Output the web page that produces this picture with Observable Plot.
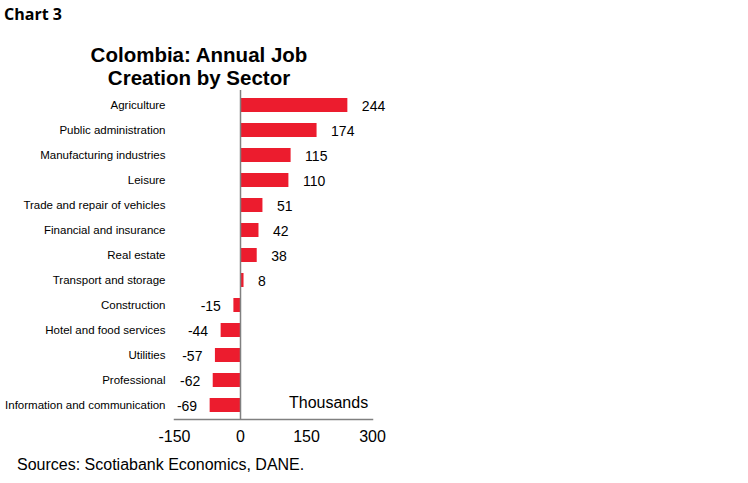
<!DOCTYPE html>
<html>
<head>
<meta charset="utf-8">
<script src="https://cdn.jsdelivr.net/npm/d3@7"></script>
<script src="https://cdn.jsdelivr.net/npm/@observablehq/plot@0.6"></script>
<style>
  html, body { margin: 0; padding: 0; background: #fff; }
  #wrap { position: relative; width: 748px; height: 483px; overflow: hidden; font-family: "Liberation Sans", Arial, sans-serif; color: #000; }
  #wrap svg { position: absolute; left: 0; top: 0; }
  .abs { position: absolute; white-space: nowrap; line-height: 1; }
  #chartno { left: 4px; top: 6px; font-family: "Open Sans", sans-serif; font-weight: 700; font-size: 16px; }
  #title { left: 60px; width: 278px; top: 43px; text-align: center; font-weight: 700; font-size: 20.5px; line-height: 23px; white-space: normal; }
  #units { left: 289px; top: 395px; font-size: 16px; }
  #source { left: 17px; top: 457px; font-size: 16px; }
</style>
</head>
<body>
<div id="wrap">
  <div id="plot"></div>
  <div class="abs" id="chartno">Chart 3</div>
  <div class="abs" id="title">Colombia: Annual Job<br>Creation by Sector</div>
  <div class="abs" id="units">Thousands</div>
  <div class="abs" id="source">Sources: Scotiabank Economics, DANE.</div>
</div>
<script>
const categories = [
  "Agriculture",
  "Public administration",
  "Manufacturing industries",
  "Leisure",
  "Trade and repair of vehicles",
  "Financial and insurance",
  "Real estate",
  "Transport and storage",
  "Construction",
  "Hotel and food services",
  "Utilities",
  "Professional",
  "Information and communication"
];
const values = [244, 174, 115, 110, 51, 42, 38, 8, -15, -44, -57, -62, -69];
const xTicks = [-150, 0, 150, 300];

const data = categories.map((c, i) => ({sector: c, value: values[i]}));

const chart = Plot.plot({
  width: 748,
  height: 450,
  marginTop: 90,
  marginBottom: 31,
  marginLeft: 174,
  marginRight: 376,
  style: {fontFamily: '"Liberation Sans", Arial, sans-serif', color: "#000", background: "transparent"},
  x: {domain: [-150, 300]},
  y: {domain: categories, paddingInner: 0.445, paddingOuter: 0.24},
  marks: [
    Plot.barX(data, {x: "value", y: "sector", fill: "#ec1c2e"}),
    Plot.ruleX([0], {stroke: "#808080", strokeWidth: 1.5}),
    Plot.frame({anchor: "bottom", stroke: "#808080", strokeWidth: 1.5}),
    Plot.axisX({ticks: xTicks, tickFormat: d => String(d), tickSize: 0, tickPadding: 11, fontSize: 16, label: null}),
    Plot.axisY({tickSize: 0, tickPadding: 9, fontSize: 11.5, label: null}),
    Plot.text(data.filter(d => d.value >= 0), {x: "value", y: "sector", text: d => String(d.value), dx: 14, dy: 1, textAnchor: "start", fontSize: 14, fill: "#000"}),
    Plot.text(data.filter(d => d.value < 0), {x: "value", y: "sector", text: d => String(d.value), dx: -13, dy: 1, textAnchor: "end", fontSize: 14, fill: "#000"})
  ]
});
document.getElementById("plot").appendChild(chart);
</script>
</body>
</html>
